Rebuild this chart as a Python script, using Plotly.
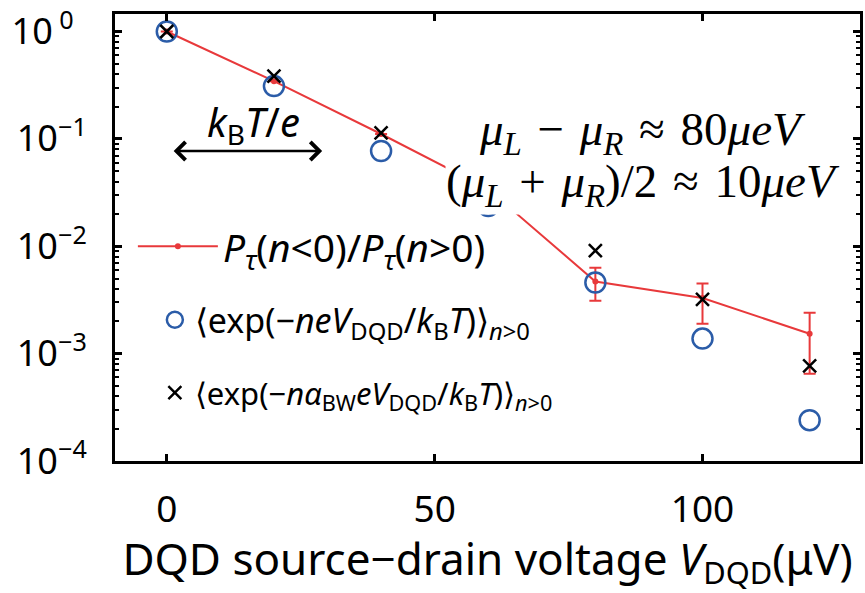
import math
import plotly.graph_objects as go

# DQD source-drain voltage (µV)
V_DQD = [0, 20, 40, 60, 80, 100, 120]

# Measured ratio P_tau(n<0)/P_tau(n>0) with its error interval
ratio = [1.0, 0.345, 0.111, 0.034, 0.0047, 0.0033, 0.00153]
ratio_hi = [1.0, 0.345, 0.111, 0.034, 0.0063, 0.0045, 0.0024]
ratio_lo = [1.0, 0.345, 0.111, 0.034, 0.0031, 0.0019, 0.00065]

# <exp(-n e V / kB T)>_{n>0}
exp_plain = [1.0, 0.31, 0.077, 0.0237, 0.0046, 0.00138, 0.00024]
# <exp(-n alpha_BW e V / kB T)>_{n>0}
exp_bw = [1.0, 0.385, 0.114, 0.04, 0.0091, 0.0032, 0.00077]

y_tickvals = [1, 0.1, 0.01, 0.001, 0.0001]
y_ticktext = ["10<sup>\u00a00\u00a0\u00a0</sup>", "10<sup>\u22121</sup>", "10<sup>\u22122</sup>",
              "10<sup>\u22123</sup>", "10<sup>\u22124</sup>"]
x_tickvals = [0, 50, 100]

RED = "#e8393b"
BLUE = "#2b5ca8"
FONT = "Noto Sans"

err_plus = [h - r for h, r in zip(ratio_hi, ratio)]
err_minus = [r - l for r, l in zip(ratio, ratio_lo)]

fig = go.Figure()

fig.add_trace(go.Scatter(
    x=V_DQD, y=ratio, mode="lines+markers",
    line=dict(color=RED, width=2),
    marker=dict(color=RED, size=6),
    error_y=dict(type="data", array=err_plus, arrayminus=err_minus,
                 color=RED, thickness=2, width=6),
    name="<i>P</i><sub><i>\u03c4</i></sub>(<i>n</i>&lt;0)/<i>P</i><sub><i>\u03c4</i></sub>(<i>n</i>&gt;0)",
    legend="legend",
))

fig.add_trace(go.Scatter(
    x=V_DQD, y=exp_plain, mode="markers",
    marker=dict(symbol="circle-open", size=20, color=BLUE, line=dict(width=2.5, color=BLUE)),
    name="\u27e8exp(\u2212<i>neV</i><sub>DQD</sub>/<i>k</i><sub>B</sub><i>T</i>)\u27e9<sub><i>n</i>&gt;0</sub>",
    legend="legend2",
))

fig.add_trace(go.Scatter(
    x=V_DQD, y=exp_bw, mode="markers",
    marker=dict(symbol="x-thin-open", size=13, color="black", line=dict(width=2.5, color="black")),
    name="\u27e8exp(\u2212<i>n\u03b1</i><sub>BW</sub><i>eV</i><sub>DQD</sub>/<i>k</i><sub>B</sub><i>T</i>)\u27e9<sub><i>n</i>&gt;0</sub>",
    legend="legend3",
))

# thermal energy scale arrow
arrow_y = math.log10(0.077)
fig.add_annotation(
    x=29, y=arrow_y, ax=1, ay=arrow_y, xref="x", yref="y", axref="x", ayref="y",
    text="", showarrow=True, arrowside="end+start", arrowhead=4, arrowsize=1.4,
    arrowwidth=2.5, arrowcolor="black",
)
fig.add_annotation(
    x=16.2, y=math.log10(0.14), xref="x", yref="y", showarrow=False,
    text="<i>k</i><sub>B</sub><i>T</i>/<i>e</i>",
    font=dict(family=FONT, size=40, color="black"),
)

# chemical potential settings; the lower line carries the white box,
# the upper line is drawn last, unboxed, so its subscripts stay visible
SP = "\u2004"
mu_lower = ("(<i>\u03bc<sub>L</sub></i>" + SP + "+" + SP + "<i>\u03bc<sub>R</sub></i>)/2"
            + SP + "\u2248" + SP + "10<i>\u03bceV</i>")
mu_upper = ("<i>\u03bc<sub>L</sub></i>" + SP + "\u2212" + SP + "<i>\u03bc<sub>R</sub></i>"
            + SP + "\u2248" + SP + "80<i>\u03bceV</i>")
fig.add_annotation(
    x=88.8, y=math.log10(0.038), xref="x", yref="y", showarrow=False,
    text=mu_lower, font=dict(family="Liberation Serif", size=47, color="black"),
    bgcolor="white", borderpad=0,
)
fig.add_annotation(
    x=88.8, y=math.log10(0.1135), xref="x", yref="y", showarrow=False,
    text=mu_upper, font=dict(family="Liberation Serif", size=47, color="black"),
    bgcolor="rgba(0,0,0,0)", borderpad=0,
)

axis_common = dict(
    showline=True, linecolor="black", linewidth=3, mirror="ticks",
    ticks="inside", tickcolor="black", tickwidth=2.5, ticklen=7,
    showgrid=False, zeroline=False,
)

fig.update_xaxes(
    range=[-9.67, 129.4], tickvals=x_tickvals,
    tickfont=dict(family=FONT, size=37, color="black"),
    ticklabelstandoff=14,
    title=dict(text="DQD source\u2212drain voltage <i>V</i><sub>DQD</sub>(\u03bcV)",
               font=dict(family=FONT, size=44, color="black"), standoff=10),
    **axis_common,
)
fig.update_yaxes(
    type="log", range=[-4, 0.163], tickvals=y_tickvals, ticktext=y_ticktext,
    tickfont=dict(family=FONT, size=36, color="black"),
    ticklabelstandoff=18,
    minor=dict(ticks="inside", ticklen=4, tickwidth=2, tickcolor="black", dtick="D1"),
    **axis_common,
)

legend_common = dict(xanchor="left", yanchor="middle", bgcolor="rgba(0,0,0,0)")
fig.update_layout(
    width=865, height=593,
    margin=dict(l=115, r=2, t=13, b=132),
    plot_bgcolor="white", paper_bgcolor="white",
    showlegend=True,
    legend=dict(x=0.024, y=0.480, itemwidth=80,
                font=dict(family=FONT, size=39, color="black"), **legend_common),
    legend2=dict(x=0.0535, y=0.315,
                 font=dict(family=FONT, size=34, color="black"), **legend_common),
    legend3=dict(x=0.0535, y=0.152,
                 font=dict(family=FONT, size=31, color="black"), **legend_common),
)

fig.write_html("out.html")
